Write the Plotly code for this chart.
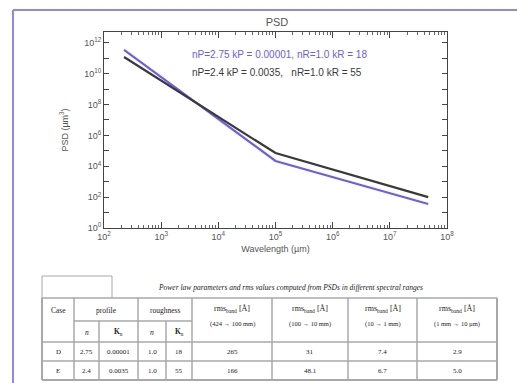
import plotly.graph_objects as go

# ---- data ----
wavelength = [224, 1.0e5, 4.7e7]
psd_D = [3.5e11, 2.2e4, 36]
psd_E = [1.2e11, 7.2e4, 100]
series_names = ["nP=2.75 kP = 0.00001, nR=1.0 kR = 18",
                "nP=2.4 kP = 0.0035,   nR=1.0 kR = 55"]
series_colors = ["#6a5cf5", "#3a3a3a"]

x_exponents = [2, 3, 4, 5, 6, 7, 8]
y_exponents = list(range(0, 13))

table_caption = "Power law parameters and rms values computed from PSDs in different spectral ranges"
case = ["D", "E"]
profile_n = ["2.75", "2.4"]
profile_K = ["0.00001", "0.0035"]
rough_n = ["1.0", "1.0"]
rough_K = ["18", "55"]
rms_bands = ["(424 → 100 mm)", "(100 → 10 mm)", "(10 → 1 mm)", "(1 mm → 10 µm)"]
rms_D = ["265", "31", "7.4", "2.9"]
rms_E = ["166", "48.1", "6.7", "5.0"]

# ---- layout helpers (pixel -> paper) ----
W, H = 517, 383
PL, PR, PT, PB = 104, 447, 32, 228
def px(x):
    return (x - PL) / (PR - PL)
def py(y):
    return (PB - y) / (PB - PT)

fig = go.Figure()
for ys, name, col in zip([psd_D, psd_E], series_names, series_colors):
    fig.add_trace(go.Scatter(x=wavelength, y=ys, mode="lines", name=name,
                             line=dict(color=col, width=2.2)))

shapes = []
annotations = []

# legend-like text
for i, (name, col) in enumerate(zip(series_names, series_colors)):
    annotations.append(dict(xref="paper", yref="paper", x=px(190), y=py(55 + 17 * i),
                            xanchor="left", yanchor="middle", showarrow=False,
                            text=name.replace("  ", "&nbsp;&nbsp;"),
                            font=dict(family="Liberation Sans, Arial", size=10, color=col)))

# window border
bc = "#8a8af0"
shapes.append(dict(type="line", xref="paper", yref="paper", x0=px(13), x1=px(517), y0=py(10), y1=py(10),
                   line=dict(color=bc, width=2)))
shapes.append(dict(type="line", xref="paper", yref="paper", x0=px(13), x1=px(13), y0=py(10), y1=py(383),
                   line=dict(color=bc, width=2)))

# table geometry
tc = "#a8a8a8"
cols = [42, 74, 99, 138, 166, 192, 272, 348, 417, 497]
top, mid, r1, r2, bot = 298, 321, 342, 361, 380
def hline(y, xa, xb, w=1.5):
    shapes.append(dict(type="line", xref="paper", yref="paper", x0=px(xa), x1=px(xb), y0=py(y), y1=py(y),
                       line=dict(color=tc, width=w)))
def vline(x, ya, yb, w=1.5):
    shapes.append(dict(type="line", xref="paper", yref="paper", x0=px(x), x1=px(x), y0=py(ya), y1=py(yb),
                       line=dict(color=tc, width=w)))

# faint box near caption
hline(276, 42, 112, 1)
vline(42, 276, 298, 1)
vline(112, 276, 298, 1)

hline(top, cols[0], cols[-1])
hline(mid, cols[1], cols[5])
hline(r1, cols[0], cols[-1])
hline(r2, cols[0], cols[-1])
hline(bot, cols[0], cols[-1], 2)
for i, c in enumerate(cols):
    if i in (2, 4):
        vline(c, mid, bot)
    else:
        vline(c, top, bot, 2 if i in (0, len(cols) - 1) else 1.5)

serif = "Liberation Serif, Times New Roman"
tf = dict(family=serif, size=7.5, color="#222")
def txt(x, y, s, size=7.5, italic=False):
    f = dict(tf)
    f["size"] = size
    if italic:
        s = "<i>" + s + "</i>"
    annotations.append(dict(xref="paper", yref="paper", x=px(x), y=py(y), text=s, showarrow=False,
                            xanchor="center", yanchor="middle", font=f))

txt(290, 287, table_caption, 7.5, italic=True)
txt((cols[0] + cols[1]) / 2, 310, "Case")
txt((cols[1] + cols[3]) / 2, 310, "profile")
txt((cols[3] + cols[5]) / 2, 310, "roughness")
txt((cols[1] + cols[2]) / 2, 332, "<i>n</i>")
txt((cols[2] + cols[3]) / 2, 332, "<b>K</b><sub>n</sub>")
txt((cols[3] + cols[4]) / 2, 332, "<i>n</i>")
txt((cols[4] + cols[5]) / 2, 332, "<b>K</b><sub>n</sub>")
for j, band in enumerate(rms_bands):
    cx = (cols[5 + j] + cols[6 + j]) / 2
    txt(cx, 309, "rms<sub>band</sub> [Å]", 8)
    txt(cx, 324, band, 6.5)
for row_y, vals in zip([(r1 + r2) / 2, (r2 + bot) / 2],
                       [[case[0], profile_n[0], profile_K[0], rough_n[0], rough_K[0]] + rms_D,
                        [case[1], profile_n[1], profile_K[1], rough_n[1], rough_K[1]] + rms_E]):
    for k, v in enumerate(vals):
        txt((cols[k] + cols[k + 1]) / 2, row_y, v, 7)

axis_font = dict(family="Liberation Sans, Arial", size=9, color="#555")
minor_x = [m * 10 ** e for e in x_exponents[:-1] for m in range(2, 10)]

fig.update_layout(
    width=W, height=H,
    margin=dict(l=PL, r=W - PR, t=PT, b=H - PB),
    paper_bgcolor="white", plot_bgcolor="white",
    showlegend=False,
    title=dict(text="PSD", x=px(277), xref="paper", xanchor="center", y=1 - 22 / H, yanchor="middle",
               font=dict(family="Liberation Sans, Arial", size=11, color="#555")),
    xaxis=dict(type="log", range=[2, 8], showgrid=False, zeroline=False,
               showline=True, linecolor="#444", linewidth=1, mirror="ticks",
               ticks="inside", ticklen=6, tickcolor="#444",
               tickvals=[10 ** e for e in x_exponents],
               ticktext=["10<sup>%d</sup>" % e for e in x_exponents],
               minor=dict(tickvals=minor_x, ticks="inside", ticklen=3, tickcolor="#666", showgrid=False),
               tickfont=axis_font,
               title=dict(text="Wavelength (µm)", font=axis_font, standoff=4)),
    yaxis=dict(type="log", range=[0, 12.7], showgrid=False, zeroline=False,
               showline=True, linecolor="#444", linewidth=1, mirror="ticks",
               ticks="inside", ticklen=5, tickcolor="#444",
               tickvals=[10 ** e for e in y_exponents],
               ticktext=[("10<sup>%d</sup>" % e) if e % 2 == 0 else "" for e in y_exponents],
               tickfont=axis_font,
               title=dict(text="PSD (µm<sup>3</sup>)", font=axis_font, standoff=14)),
    shapes=shapes, annotations=annotations,
)

fig.write_html("out.html", config={"displayModeBar": False},
               post_script="document.body.style.margin='0';document.body.style.overflow='hidden';")
